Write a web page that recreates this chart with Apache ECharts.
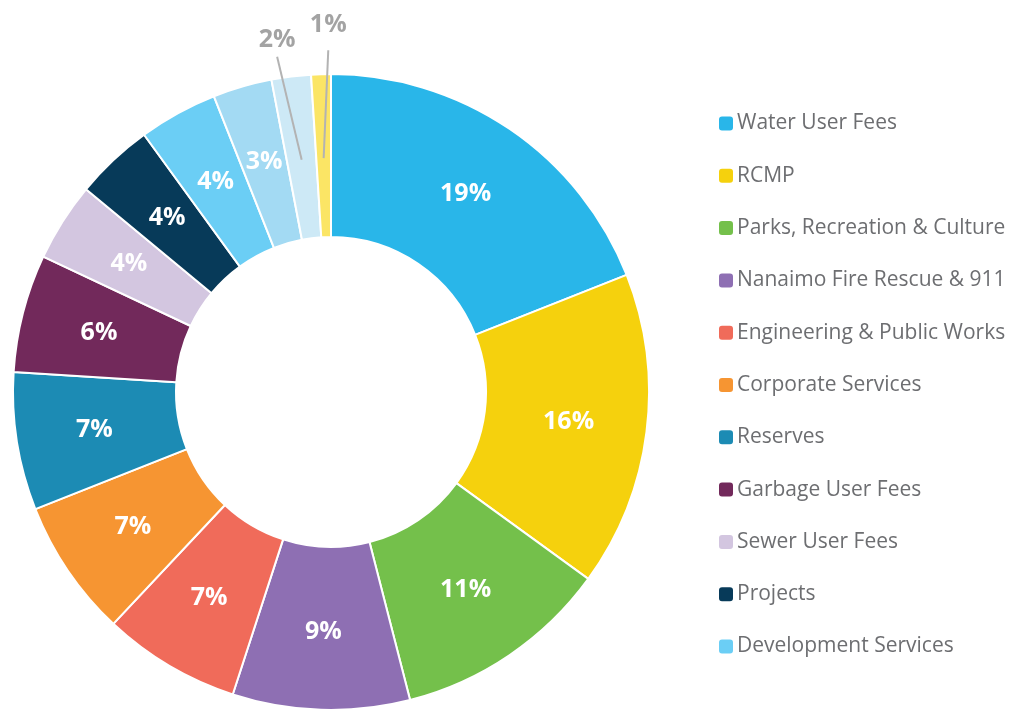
<!DOCTYPE html>
<html>
<head>
<meta charset="utf-8">
<style>
  html, body { margin: 0; padding: 0; background: #ffffff; }
  #chart { width: 1014px; height: 711px; }
</style>
<script src="https://cdn.jsdelivr.net/npm/echarts@6/dist/echarts.min.js"></script>
</head>
<body>
<div id="chart"></div>
<script>
// Budget shares by department (percent of total)
const categories = [
  'Water User Fees',
  'RCMP',
  'Parks, Recreation & Culture',
  'Nanaimo Fire Rescue & 911',
  'Engineering & Public Works',
  'Corporate Services',
  'Reserves',
  'Garbage User Fees',
  'Sewer User Fees',
  'Projects',
  'Development Services',
  'Other A',
  'Other B',
  'Other C'
];
const values = [19, 16, 11, 9, 7, 7, 7, 6, 4, 4, 4, 3, 2, 1];
const colors = [
  '#29b6e9', '#f5d10d', '#74c04b', '#8e6fb3', '#f06b5a', '#f69532',
  '#1c8bb4', '#72295b', '#d3c6e0', '#073a59', '#6bcef5',
  '#a3daf3', '#cde9f6', '#fbe565'
];
// Legend lists the named departments only
const legendNames = categories.slice(0, 11);
// Slices whose value is written outside with a leader line
const outsideLabelled = [12, 13];
// Leader line end nudges and label gap (px), keyed by slice index
const leaderStyle = {
  12: { dx: -11, dy: 4, gap: 4 },
  13: { dx: 8, dy: 0, gap: 13 }
};

const center = [331, 392];
const ringRadius = [155, 318];
const leaderStartRadius = 234;

const chart = echarts.init(document.getElementById('chart'), null, { renderer: 'canvas' });

const ringData = categories.map((name, i) => ({
  name: name,
  value: values[i],
  itemStyle: { color: colors[i] },
  label: { show: outsideLabelled.indexOf(i) < 0 }
}));

const leaderData = categories.map((name, i) => ({
  name: name,
  value: values[i],
  itemStyle: { color: 'rgba(0,0,0,0)', borderWidth: 0 },
  label: { show: outsideLabelled.indexOf(i) >= 0 },
  labelLine: { show: outsideLabelled.indexOf(i) >= 0 }
}));

chart.setOption({
  animation: false,
  backgroundColor: '#ffffff',
  legend: {
    orient: 'vertical',
    left: 717,
    top: 113,
    padding: 0,
    itemWidth: 16,
    itemHeight: 16,
    itemGap: 31.3,
    icon: 'roundRect',
    data: legendNames,
    selectedMode: false,
    textStyle: {
      fontFamily: 'Open Sans',
      fontSize: 21,
      lineHeight: 20,
      color: '#6d6e71',
      padding: [0, 0, 0, -2]
    }
  },
  series: [
    {
      type: 'pie',
      z: 2,
      center: center,
      radius: ringRadius,
      startAngle: 90,
      clockwise: true,
      avoidLabelOverlap: false,
      emphasis: { disabled: true },
      itemStyle: { borderColor: '#ffffff', borderWidth: 2 },
      label: {
        position: 'inside',
        formatter: p => p.value + '%',
        color: '#ffffff',
        fontFamily: 'Open Sans',
        fontWeight: 'bold',
        fontSize: 25
      },
      labelLine: { show: false },
      data: ringData
    },
    {
      type: 'pie',
      z: 5,
      silent: true,
      center: center,
      radius: [0, leaderStartRadius],
      startAngle: 90,
      clockwise: true,
      avoidLabelOverlap: false,
      emphasis: { disabled: true },
      label: {
        position: 'outside',
        formatter: p => p.value + '%',
        color: '#a3a3a3',
        fontFamily: 'Open Sans',
        fontWeight: 'bold',
        fontSize: 25
      },
      labelLine: {
        length: 108,
        length2: 0,
        lineStyle: { color: '#b3b3b3', width: 2 }
      },
      labelLayout: function (p) {
        const pts = p.labelLinePoints;
        if (!pts) return {};
        const s = leaderStyle[p.dataIndex] || { dx: 0, dy: 0, gap: 6 };
        const end = [pts[1][0] + s.dx, pts[1][1] + s.dy];
        return {
          x: end[0],
          y: end[1] - s.gap,
          align: 'center',
          verticalAlign: 'bottom',
          labelLinePoints: [pts[0], end, end]
        };
      },
      data: leaderData
    }
  ]
});
</script>
</body>
</html>
